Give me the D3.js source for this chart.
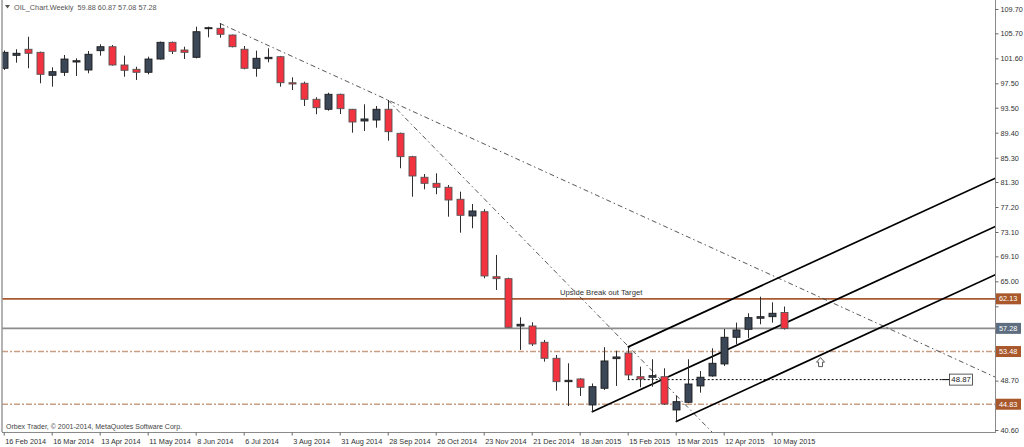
<!DOCTYPE html>
<html><head><meta charset="utf-8">
<script src="https://cdn.jsdelivr.net/npm/d3@7"></script>
<style>
html,body{margin:0;padding:0;background:#fff;}
svg{display:block;}
text{font-family:"Liberation Sans",Arial,sans-serif;}
</style></head><body>
<svg id="c" width="1024" height="447"></svg>
<script>
// ---------- data ----------
const symbolTitle = "OIL_Chart.Weekly";
const lastQuote = "59.88 60.87 57.08 57.28";
const copyright = "Orbex Trader, \u00A9 2001-2014, MetaQuotes Software Corp.";

const opens  = [99.97,102.10,103.09,102.59,98.82,99.31,101.0,99.69,102.86,103.51,100.51,99.80,99.31,101.49,104.23,102.97,101.77,106.47,106.53,105.43,103.09,99.97,101.54,101.87,97.60,97.51,94.88,93.24,95.70,93.24,91.32,91.48,93.24,89.30,85.46,82.08,81.09,80.44,78.47,75.73,76.43,65.76,65.44,57.67,57.67,55.0,52.37,48.53,48.98,44.71,47.45,52.31,53.24,49.35,49.26,49.35,43.89,45.15,47.83,49.47,51.44,55.82,57.13,58.94,59.20,59.88];
const highs  = [102.9,103.09,105.15,102.7,100.13,102.15,101.61,102.81,103.91,103.79,102.04,100.23,101.87,104.35,104.35,103.51,106.80,106.80,107.35,105.5,103.63,102.86,103.25,102.0,98.49,97.77,95.21,95.96,95.80,93.3,94.06,93.78,94.77,89.4,85.6,82.62,82.73,80.81,79.72,77.70,76.83,69.33,65.6,59.10,58.28,55.38,52.91,51.55,49.09,48.23,54.2,53.62,54.2,51.0,52.21,50.73,46.19,52.21,50.29,54.01,57.18,58.22,59.76,62.48,61.56,60.87];
const lows   = [99.7,100.89,99.97,97.51,96.95,98.70,98.70,99.15,102.04,100.40,98.59,98.05,98.98,101.40,102.31,101.49,101.6,105.06,104.99,103.4,99.80,98.59,100.95,96.95,96.41,93.78,92.42,93.01,92.47,89.40,89.68,90.22,88.09,83.56,78.89,80.11,79.29,75.61,72.99,73.71,65.50,63.58,57.40,53.74,54.39,51.82,47.06,44.54,46.19,43.56,47.17,47.83,48.98,47.61,47.71,44.70,41.97,45.0,46.73,49.35,51.11,54.67,55.66,57.95,58.22,57.08];
const closes = [102.59,102.43,102.43,98.98,99.41,101.49,101.21,102.27,103.51,100.51,99.64,99.31,101.49,104.23,102.76,102.59,105.97,106.63,105.55,103.51,99.97,101.61,101.77,97.60,97.39,94.88,93.50,95.70,93.34,91.15,91.65,93.24,89.56,85.46,82.29,81.09,80.44,78.35,75.84,76.55,65.88,65.44,57.46,57.95,54.72,52.37,48.53,48.76,47.61,47.71,51.93,52.59,49.63,48.98,49.52,44.87,45.25,48.15,49.26,51.55,55.82,57.02,59.04,59.20,59.76,57.28];

const dateLabels = ["16 Feb 2014","16 Mar 2014","13 Apr 2014","11 May 2014","8 Jun 2014","6 Jul 2014","3 Aug 2014","31 Aug 2014","28 Sep 2014","26 Oct 2014","23 Nov 2014","21 Dec 2014","18 Jan 2015","15 Feb 2015","15 Mar 2015","12 Apr 2015","10 May 2015"];
const dateLabelBars = [0,4,8,12,16,20,24,28,32,36,40,44,48,52,56,60,64];

const priceTicks = [109.70,105.70,101.60,97.50,93.50,89.40,85.30,81.30,77.20,73.10,69.10,65.00,60.90,56.80,52.80,48.70,44.70,40.60];

const levelPrices = [62.13, 57.28, 53.48, 44.83];
const levelKinds  = ["target","bid","support","support"];

const trend1 = [[18,107.35],[32,94.77]];
const trend2 = [[32,94.77],[45,68.55]];
const pitchfork = [[49,43.56],[52,54.2],[56,41.97]];
const dottedLevel = {price:48.87, from:52, to:78.2};
const annotText = {text:"Upside Break out Target", bar:46.36, price:62.76};
const arrowMark = {bar:68.07, price:52.48};

// ---------- setup ----------
const svg = d3.select("#c");
const plot = {l:2, r:995, t:0, b:432};
const x = d3.scaleLinear().domain([0,82]).range([3.7, 3.7+82*12]);
const y = d3.scaleLinear().domain([40.6,109.7]).range([430,9]);
const FS = 7.3;

svg.append("rect").attr("width",1024).attr("height",447).attr("fill","#fff");
svg.append("defs").append("clipPath").attr("id","pc").append("rect")
  .attr("x",plot.l).attr("y",plot.t).attr("width",plot.r-plot.l).attr("height",plot.b-plot.t);
const g = svg.append("g").attr("clip-path","url(#pc)");

// horizontal levels
const lvlStyle = {
  target:{stroke:"#a85a32", w:1.6, dash:null},
  bid:{stroke:"#8c8c8c", w:1.6, dash:null},
  support:{stroke:"#c99e82", w:1.4, dash:"6,2,2,2"}
};
levelPrices.forEach((p,i)=>{
  const s = lvlStyle[levelKinds[i]];
  g.append("line").attr("x1",plot.l).attr("x2",plot.r)
    .attr("y1",y(p)).attr("y2",y(p))
    .attr("stroke",s.stroke).attr("stroke-width",s.w)
    .attr("stroke-dasharray",s.dash);
});

// rays helper
function ray(a,b){
  const slope=(b[1]-a[1])/(b[0]-a[0]);
  const end = x.invert(plot.r+5);
  return [[a[0],a[1]],[end,a[1]+slope*(end-a[0])]];
}
const line = d3.line().x(d=>x(d[0])).y(d=>y(d[1]));
[trend1,trend2].forEach(t=>{
  g.append("path").attr("d",line(ray(t[0],t[1])))
    .attr("fill","none").attr("stroke","#444").attr("stroke-width",0.9)
    .attr("stroke-dasharray","5,3,1.5,3");
});

// pitchfork
const [P1,P2,P3] = pitchfork;
const mid = [(P2[0]+P3[0])/2,(P2[1]+P3[1])/2];
const pfSlope = (mid[1]-P1[1])/(mid[0]-P1[0]);
[P1,P2,P3].forEach(p=>{
  g.append("path").attr("d",line(ray(p,[p[0]+1,p[1]+pfSlope])))
    .attr("fill","none").attr("stroke","#000").attr("stroke-width",1.7);
});

// dotted level with label
g.append("line").attr("x1",x(dottedLevel.from)).attr("x2",x(dottedLevel.to))
  .attr("y1",y(dottedLevel.price)).attr("y2",y(dottedLevel.price))
  .attr("stroke","#000").attr("stroke-width",1).attr("stroke-dasharray","2,2");
g.append("line").attr("x1",x(dottedLevel.to)).attr("x2",x(dottedLevel.to)+8)
  .attr("y1",y(dottedLevel.price)).attr("y2",y(dottedLevel.price))
  .attr("stroke","#000").attr("stroke-width",1);
g.append("rect").attr("x",x(dottedLevel.to)+7.5).attr("y",y(dottedLevel.price)-5.5)
  .attr("width",23).attr("height",11).attr("fill","#fff").attr("stroke","#333").attr("stroke-width",0.8);
g.append("text").attr("x",x(dottedLevel.to)+19).attr("y",y(dottedLevel.price)+2.6)
  .attr("text-anchor","middle").attr("font-size",FS+0.5).attr("fill","#222").text(dottedLevel.price.toFixed(2));

// candles
const idx = d3.range(opens.length);
const cg = g.append("g");
cg.selectAll("line.w").data(idx).join("line").attr("class","w")
  .attr("x1",i=>Math.round(x(i))+0.5).attr("x2",i=>Math.round(x(i))+0.5)
  .attr("y1",i=>y(highs[i])).attr("y2",i=>y(lows[i]))
  .attr("stroke","#2e2e2e").attr("stroke-width",1);
cg.selectAll("rect.b").data(idx).join("rect").attr("class","b")
  .attr("x",i=>Math.round(x(i))-3).attr("width",7)
  .attr("y",i=>y(Math.max(opens[i],closes[i])))
  .attr("height",i=>Math.max(1,Math.abs(y(opens[i])-y(closes[i]))))
  .attr("fill",i=>closes[i]>=opens[i]?"#3b4656":"#f2323f")
  .attr("stroke",i=>closes[i]>=opens[i]?"#1c1c1c":"#555")
  .attr("stroke-width",0.9);

// annotation text
g.append("text").attr("x",x(annotText.bar)).attr("y",y(annotText.price))
  .attr("font-size",FS+0.4).attr("fill","#333").text(annotText.text);

// arrow (hollow up arrow)
const ax = x(arrowMark.bar), ay = y(arrowMark.price);
g.append("path")
  .attr("d",`M${ax},${ay} L${ax+4},${ay+4.5} L${ax+2},${ay+4.5} L${ax+2},${ay+9} L${ax-2},${ay+9} L${ax-2},${ay+4.5} L${ax-4},${ay+4.5} Z`)
  .attr("fill","#fff").attr("stroke","#444").attr("stroke-width",0.9);

// frame lines
svg.append("line").attr("x1",plot.l).attr("x2",plot.l).attr("y1",0).attr("y2",plot.b)
  .attr("stroke","#9a9a9a").attr("stroke-width",1.5);
svg.append("line").attr("x1",plot.r+0.5).attr("x2",plot.r+0.5).attr("y1",0).attr("y2",plot.b+1)
  .attr("stroke","#8a8a8a").attr("stroke-width",1);
svg.append("line").attr("x1",plot.l).attr("x2",plot.r+1).attr("y1",plot.b+0.5).attr("y2",plot.b+0.5)
  .attr("stroke","#8a8a8a").attr("stroke-width",1);

// right axis (tick labels hidden behind level price tags, as in the terminal)
const ra = svg.append("g").attr("transform",`translate(${plot.r+0.5},0)`)
  .call(d3.axisRight(y).tickValues(priceTicks).tickSize(3).tickPadding(2).tickFormat(d3.format(".2f")));
ra.select(".domain").remove();
ra.selectAll(".tick line").attr("stroke","#666");
ra.selectAll(".tick text").attr("font-size",FS).attr("fill","#333")
  .attr("font-family","'Liberation Sans',Arial,sans-serif")
  .style("display",d=>levelPrices.some(p=>Math.abs(y(p)-y(d))<9)?"none":null);

// right price labels
const lblBg = {target:"#a8582a", bid:"#5e6e80", support:"#a8582a"};
levelPrices.forEach((p,i)=>{
  svg.append("rect").attr("x",plot.r+1).attr("y",y(p)-5.5).attr("width",25).attr("height",11)
    .attr("fill",lblBg[levelKinds[i]]);
  svg.append("text").attr("x",plot.r+4).attr("y",y(p)+2.6).attr("font-size",FS)
    .attr("fill","#fff").text(p.toFixed(2));
});

// bottom axis
const ba = svg.append("g").attr("transform",`translate(0,${plot.b+0.5})`)
  .call(d3.axisBottom(x).tickValues(dateLabelBars).tickSize(3).tickFormat((d,i)=>dateLabels[i]));
ba.select(".domain").remove();
ba.selectAll(".tick line").attr("stroke","#666");
ba.selectAll(".tick text").attr("font-size",FS).attr("fill","#333").attr("text-anchor","start")
  .attr("x",1).attr("dy","0").attr("y",11.5)
  .attr("font-family","'Liberation Sans',Arial,sans-serif");

// header
svg.append("path").attr("d","M5,5 L10,5 L7.5,8.5 Z").attr("fill","#555");
svg.append("text").attr("x",14).attr("y",10).attr("font-size",FS).attr("fill","#555")
  .attr("xml:space","preserve").text(symbolTitle + "  " + lastQuote);

// copyright
svg.append("text").attr("x",6).attr("y",429).attr("font-size",FS-0.3).attr("fill","#444").text(copyright);
</script>
</body></html>
